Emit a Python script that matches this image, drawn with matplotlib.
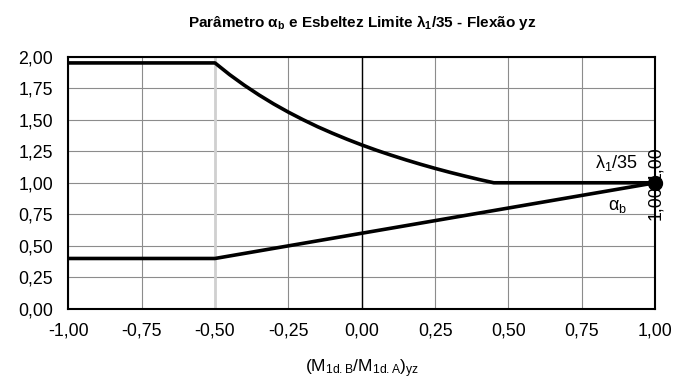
import matplotlib
matplotlib.use('Agg')
import matplotlib.pyplot as plt
from matplotlib.ticker import FuncFormatter, MultipleLocator

plt.rcParams['font.family'] = ['Liberation Sans', 'DejaVu Sans']
plt.rcParams['mathtext.fontset'] = 'custom'
plt.rcParams['mathtext.rm'] = 'Liberation Sans'
plt.rcParams['mathtext.it'] = 'Liberation Sans'
plt.rcParams['mathtext.bf'] = 'Liberation Sans:bold'
plt.rcParams['mathtext.default'] = 'regular'

# relação de momentos M1d,B / M1d,A
x_lambda = [-1.00, -0.50, -0.45, -0.40, -0.35, -0.30, -0.25, -0.20, -0.15, -0.10, -0.05,
            0.00, 0.05, 0.10, 0.15, 0.20, 0.25, 0.30, 0.35, 0.40, 0.45, 1.00]
lambda_35 = [1.950, 1.950, 1.857, 1.773, 1.696, 1.625, 1.560, 1.500, 1.444, 1.393, 1.345,
             1.300, 1.258, 1.219, 1.182, 1.147, 1.114, 1.083, 1.054, 1.026, 1.000, 1.000]

x_alpha = [-1.00, -0.50, 1.00]
alpha_b = [0.40, 0.40, 1.00]


def virgula(v, pos=None):
    return ('%.2f' % v).replace('.', ',')


fig = plt.figure(figsize=(6.89, 3.80), dpi=100)
ax = fig.add_axes([0.099, 0.187, 0.852, 0.664])

ax.set_xlim(-1, 1)
ax.set_ylim(0, 2)
ax.xaxis.set_major_locator(MultipleLocator(0.25))
ax.yaxis.set_major_locator(MultipleLocator(0.25))
ax.xaxis.set_major_formatter(FuncFormatter(virgula))
ax.yaxis.set_major_formatter(FuncFormatter(virgula))
ax.tick_params(length=0, labelsize=12.8)
ax.tick_params(axis='y', pad=11)
ax.tick_params(axis='x', pad=10)
ax.grid(True, color='#8c8c8c', linewidth=0.8)
ax.set_axisbelow(True)
for s in ax.spines.values():
    s.set_linewidth(1.5)

ax.axvline(-0.5, color='#d0d0d0', linewidth=2.0, zorder=1)
ax.axvline(0.0, color='black', linewidth=1.0, zorder=2)

ax.plot(x_lambda, lambda_35, color='black', linewidth=2.6, zorder=3)
ax.plot(x_alpha, alpha_b, color='black', linewidth=2.6, zorder=3)
ax.plot([x_lambda[-1]], [lambda_35[-1]], 'o', color='black', markersize=10,
        zorder=4, clip_on=False)

# rótulos de valor no ponto final de cada série
ax.annotate(virgula(lambda_35[-1]), (x_lambda[-1], lambda_35[-1]), xytext=(0, 14),
            textcoords='offset points', rotation=90, ha='center', va='center',
            fontsize=12.8, zorder=5, annotation_clip=False)
ax.annotate(virgula(alpha_b[-1]), (x_alpha[-1], alpha_b[-1]), xytext=(0, -14),
            textcoords='offset points', rotation=90, ha='center', va='center',
            fontsize=12.8, zorder=5, annotation_clip=False)

ax.text(0.867, 1.16, r'$\lambda_1$/35', ha='center', va='center', fontsize=13)
ax.text(0.87, 0.81, r'$\alpha_b$', ha='center', va='center', fontsize=13)

ax.set_title(r'Parâmetro $\alpha_b$ e Esbeltez Limite $\lambda_1$/35 - Flexão yz',
             fontsize=11, fontweight='bold', pad=21)
ax.set_xlabel(r'(M$_{1d.B}$/M$_{1d.A}$)$_{yz}$', fontsize=12.5, labelpad=13)

plt.savefig('out.png', dpi=100)
